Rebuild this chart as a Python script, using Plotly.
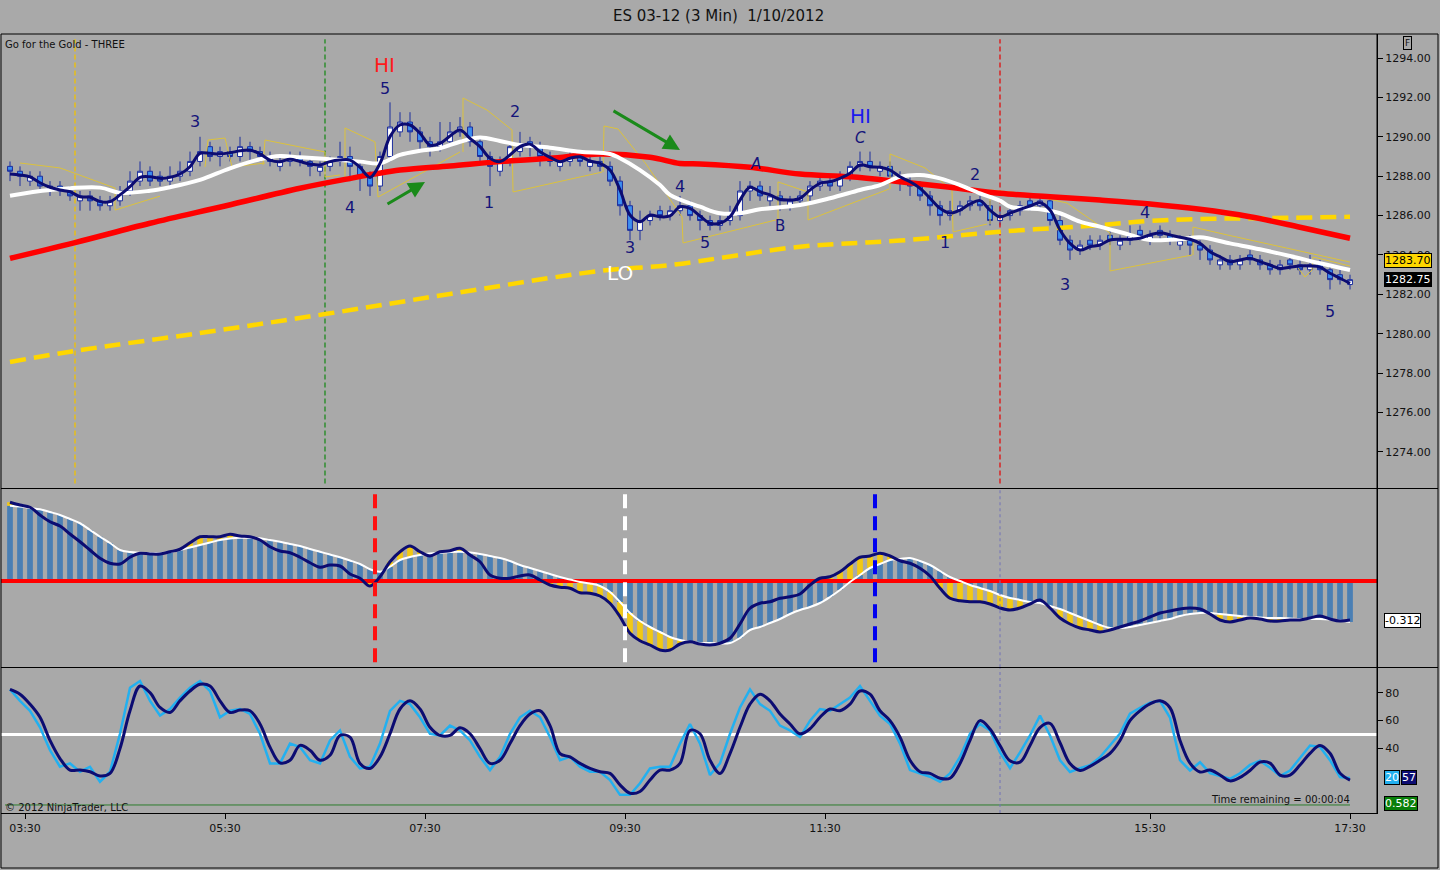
import plotly.graph_objects as go

# ES 03-12 (3 Min) 1/10/2012 -- sampled every 2 bars, x = bar number counted from 03:30
bars = list(range(-3, 267, 2))

tick_bars = [0, 40, 80, 120, 160, 225, 265]
tick_times = ["03:30", "05:30", "07:30", "09:30", "11:30", "15:30", "17:30"]
price_ticks = [1274, 1276, 1278, 1280, 1282, 1284, 1286, 1288, 1290, 1292, 1294]
stoch_ticks = [40, 60, 80]

opens = [
    1288.5, 1288.25, 1287.75, 1288.0, 1287.25, 1287.5, 1287.25, 1286.75, 1287.0, 1286.75,
    1286.5, 1286.75, 1287.25, 1287.75, 1288.25, 1288.0, 1287.75, 1288.0, 1288.25, 1288.75,
    1289.5, 1289.0, 1289.25, 1289.0, 1289.5, 1289.25, 1289.0, 1288.5, 1288.75, 1289.0,
    1288.75, 1288.25, 1288.5, 1288.75, 1289.0, 1288.5, 1288.0, 1287.5, 1289.0, 1290.25,
    1290.75, 1290.25, 1289.75, 1289.5, 1289.75, 1290.25, 1290.5, 1289.75, 1289.0, 1288.25,
    1288.75, 1289.25, 1289.75, 1289.5, 1289.0, 1288.5, 1288.75, 1289.0, 1288.5, 1288.75,
    1288.5, 1287.75, 1286.5, 1285.25, 1285.75, 1286.25, 1286.0, 1286.25, 1286.5, 1286.0,
    1285.75, 1285.5, 1285.75, 1286.0, 1287.25, 1287.5, 1286.75, 1287.0, 1286.5, 1286.75,
    1287.0, 1287.5, 1287.75, 1287.5, 1288.0, 1288.5, 1288.75, 1288.25, 1288.5, 1288.0,
    1287.75, 1287.5, 1287.0, 1286.5, 1286.0, 1286.25, 1286.5, 1286.75, 1286.5, 1285.75,
    1286.0, 1286.25, 1286.75, 1286.5, 1286.75, 1285.75, 1284.75, 1284.25, 1284.75, 1284.5,
    1285.0, 1284.5, 1284.75, 1285.25, 1284.75, 1285.25, 1285.0, 1284.5, 1284.75, 1284.5,
    1284.25, 1283.5, 1283.75, 1283.5, 1284.0, 1283.75, 1283.5, 1283.25, 1283.75, 1283.5,
    1283.25, 1283.5, 1283.25, 1283.0, 1282.5]
highs = [
    1288.75, 1288.5, 1288.25, 1288.25, 1287.75, 1287.75, 1287.5, 1287.25, 1287.25, 1287.0,
    1287.0, 1287.5, 1288.25, 1288.75, 1288.5, 1288.25, 1288.5, 1288.75, 1289.25, 1290.0,
    1289.75, 1289.5, 1289.5, 1290.0, 1289.75, 1289.5, 1289.25, 1289.0, 1289.25, 1289.25,
    1289.0, 1288.75, 1289.0, 1289.75, 1289.5, 1288.75, 1288.25, 1289.25, 1291.75, 1291.25,
    1291.25, 1290.5, 1290.0, 1290.75, 1290.75, 1291.0, 1290.75, 1290.0, 1289.25, 1289.0,
    1289.75, 1290.25, 1290.0, 1289.75, 1289.25, 1289.0, 1289.25, 1289.25, 1289.0, 1289.0,
    1288.75, 1288.0, 1286.75, 1286.25, 1286.25, 1286.5, 1286.5, 1287.0, 1286.75, 1286.25,
    1286.0, 1286.0, 1286.5, 1287.75, 1287.75, 1287.75, 1287.5, 1287.25, 1287.0, 1287.25,
    1287.75, 1288.0, 1288.0, 1288.25, 1288.75, 1289.25, 1289.25, 1288.75, 1288.75, 1288.25,
    1288.0, 1287.75, 1287.25, 1286.75, 1286.75, 1286.75, 1287.0, 1287.0, 1286.75, 1286.5,
    1286.5, 1286.75, 1287.0, 1287.0, 1287.0, 1286.0, 1285.0, 1284.75, 1285.0, 1285.0,
    1285.25, 1285.0, 1285.5, 1285.5, 1285.25, 1285.5, 1285.25, 1285.0, 1285.0, 1284.75,
    1284.5, 1284.0, 1284.0, 1284.0, 1284.25, 1284.0, 1283.75, 1283.75, 1284.0, 1283.75,
    1284.0, 1283.75, 1283.5, 1283.25, 1283.0]
lows = [
    1287.75, 1287.5, 1287.5, 1287.25, 1287.0, 1287.0, 1286.75, 1286.25, 1286.25, 1286.25,
    1286.25, 1286.5, 1287.0, 1287.5, 1287.5, 1287.5, 1287.5, 1287.75, 1288.0, 1288.5,
    1288.75, 1288.5, 1288.75, 1288.75, 1288.75, 1288.75, 1288.5, 1288.25, 1288.5, 1288.5,
    1288.0, 1288.0, 1288.25, 1288.5, 1287.75, 1287.25, 1287.0, 1287.25, 1288.75, 1290.0,
    1289.75, 1289.25, 1289.0, 1289.25, 1289.5, 1290.0, 1289.5, 1288.75, 1287.5, 1288.0,
    1288.5, 1289.0, 1289.0, 1288.5, 1288.5, 1288.25, 1288.5, 1288.5, 1288.25, 1288.25,
    1287.5, 1286.0, 1284.75, 1284.75, 1285.5, 1285.75, 1285.75, 1286.0, 1285.75, 1285.25,
    1285.25, 1285.25, 1285.5, 1285.75, 1286.75, 1286.75, 1286.5, 1286.25, 1286.25, 1286.5,
    1286.75, 1287.25, 1287.25, 1287.25, 1287.75, 1288.25, 1288.25, 1288.0, 1287.75, 1287.25,
    1287.0, 1286.75, 1286.0, 1285.5, 1285.75, 1286.0, 1286.25, 1286.25, 1285.5, 1285.5,
    1285.75, 1286.0, 1286.25, 1286.25, 1285.5, 1284.5, 1283.75, 1284.0, 1284.25, 1284.25,
    1284.5, 1284.25, 1284.5, 1284.75, 1284.5, 1284.75, 1284.5, 1284.25, 1284.0, 1283.75,
    1283.5, 1283.25, 1283.25, 1283.25, 1283.5, 1283.25, 1283.0, 1283.0, 1283.25, 1283.0,
    1283.0, 1283.0, 1282.25, 1282.5, 1282.25]
closes = [
    1288.25, 1288.0, 1288.0, 1287.5, 1287.5, 1287.25, 1287.0, 1287.0, 1286.75, 1286.5,
    1286.75, 1287.25, 1287.75, 1288.25, 1287.75, 1287.75, 1288.0, 1288.25, 1288.75, 1289.25,
    1289.0, 1289.25, 1289.0, 1289.5, 1289.25, 1289.0, 1288.75, 1288.75, 1289.0, 1288.75,
    1288.5, 1288.5, 1288.75, 1289.0, 1288.5, 1288.0, 1287.5, 1289.0, 1290.5, 1290.75,
    1290.25, 1289.75, 1289.5, 1289.75, 1290.25, 1290.5, 1289.75, 1289.0, 1288.5, 1288.75,
    1289.5, 1289.5, 1289.5, 1289.0, 1288.75, 1288.75, 1289.0, 1288.75, 1288.75, 1288.5,
    1287.75, 1286.5, 1285.25, 1285.75, 1286.0, 1286.0, 1286.25, 1286.5, 1286.0, 1285.75,
    1285.5, 1285.75, 1286.0, 1287.25, 1287.5, 1287.0, 1287.0, 1286.75, 1286.75, 1287.0,
    1287.5, 1287.75, 1287.5, 1288.0, 1288.5, 1288.75, 1288.5, 1288.5, 1288.0, 1287.75,
    1287.5, 1287.0, 1286.5, 1286.0, 1286.25, 1286.5, 1286.75, 1286.5, 1285.75, 1286.0,
    1286.25, 1286.5, 1286.5, 1286.75, 1285.75, 1284.75, 1284.25, 1284.5, 1284.5, 1284.75,
    1284.75, 1284.75, 1285.0, 1285.0, 1285.0, 1285.0, 1284.75, 1284.75, 1284.5, 1284.25,
    1283.75, 1283.75, 1283.5, 1283.75, 1283.75, 1283.5, 1283.25, 1283.5, 1283.5, 1283.25,
    1283.5, 1283.25, 1282.75, 1282.75, 1282.75]

# dark blue smoothing of price
fast_avg = [
    1288.11, 1288.06, 1287.97, 1287.67, 1287.44, 1287.30, 1287.21, 1286.96, 1286.93, 1286.71,
    1286.71, 1287.05, 1287.47, 1287.94, 1287.97, 1287.89, 1287.94, 1288.11, 1288.48, 1289.16,
    1289.16, 1289.13, 1289.19, 1289.29, 1289.33, 1289.13, 1288.82, 1288.74, 1288.86, 1288.74,
    1288.62, 1288.57, 1288.74, 1288.82, 1288.82, 1288.45, 1287.94, 1288.65, 1290.01, 1290.60,
    1290.60, 1290.18, 1289.58, 1289.67, 1290.04, 1290.35, 1289.92, 1289.50, 1288.91, 1288.74,
    1289.08, 1289.50, 1289.63, 1289.24, 1288.96, 1288.74, 1288.91, 1288.99, 1288.77, 1288.65,
    1288.31, 1287.30, 1286.03, 1285.69, 1286.03, 1285.94, 1285.98, 1286.45, 1286.37, 1285.98,
    1285.61, 1285.61, 1285.94, 1286.79, 1287.44, 1287.21, 1287.05, 1286.83, 1286.79, 1286.88,
    1287.30, 1287.64, 1287.72, 1287.89, 1288.15, 1288.57, 1288.48, 1288.45, 1288.31, 1287.97,
    1287.72, 1287.39, 1286.88, 1286.37, 1286.12, 1286.28, 1286.59, 1286.76, 1286.28, 1285.94,
    1286.12, 1286.32, 1286.49, 1286.65, 1286.28, 1285.27, 1284.59, 1284.25, 1284.42, 1284.51,
    1284.76, 1284.80, 1284.80, 1284.85, 1285.02, 1285.13, 1285.02, 1284.90, 1284.80, 1284.59,
    1284.17, 1283.91, 1283.66, 1283.75, 1283.83, 1283.66, 1283.49, 1283.32, 1283.38, 1283.44,
    1283.44, 1283.38, 1283.07, 1282.82, 1282.56]

# white average
mid_bars = [-3, 5, 15, 19, 25, 29, 35, 41, 47, 51, 55, 61, 67, 71, 75, 79, 83, 87, 91, 95,
            99, 105, 111, 117, 119, 123, 127, 129, 135, 139, 143, 147, 155, 161, 167, 171, 175, 179, 183, 187,
            191, 195, 197, 203, 207, 211, 215, 221, 225, 231, 235, 241, 247, 253, 259, 265]
mid_avg = [1287.01, 1287.30, 1287.42, 1287.16, 1287.26, 1287.44, 1287.81, 1288.40, 1288.86, 1289.03,
           1288.96, 1288.86, 1288.74, 1288.65, 1289.08, 1289.29, 1289.42, 1289.75, 1289.97, 1289.79,
           1289.58, 1289.45, 1289.24, 1289.13, 1288.91, 1288.31, 1287.55, 1287.05, 1286.45, 1286.12,
           1286.12, 1286.32, 1286.54, 1286.88, 1287.30, 1287.55, 1287.97, 1288.06, 1287.89, 1287.55,
           1287.13, 1286.76, 1286.45, 1286.32, 1286.12, 1285.69, 1285.44, 1285.02, 1284.76, 1284.80,
           1284.90, 1284.59, 1284.29, 1283.95, 1283.58, 1283.24]

# red slow average
slow_bars = [-3, 10, 25, 40, 55, 64, 75, 85, 95, 105, 115, 125, 131, 135, 145, 155, 165, 175,
             185, 195, 205, 215, 225, 235, 245, 255, 265]
slow_avg = [1283.83, 1284.63, 1285.61, 1286.49, 1287.39, 1287.84, 1288.31, 1288.52, 1288.74, 1288.91,
            1289.13, 1288.96, 1288.65, 1288.62, 1288.45, 1288.11, 1287.97, 1287.72, 1287.44, 1287.13,
            1286.96, 1286.79, 1286.59, 1286.32, 1285.94, 1285.41, 1284.85]

# yellow dashed long average
long_bars = [-3, 10, 35, 60, 85, 115, 129, 155, 175, 195, 215, 225, 235, 245, 265]
long_avg = [1278.57, 1279.13, 1280.04, 1281.0, 1282.02, 1283.19, 1283.49, 1284.42, 1284.73,
            1285.18, 1285.52, 1285.73, 1285.83, 1285.86, 1285.94]

# thin yellow channel pieces
chan_bars = [-1, 7, 18, 18, 27, None,
             36, 36.6, 40, 41, 41.4, 48, None,
             47.6, 48, 60, 60, 63, None,
             64, 64, 70, 70.6, 87, None,
             87.6, 87.6, 92.4, 97.4, 97.6, 115.4, None,
             115.6, 115.8, 118.6, 124.2, 131.4, 131.6, 150.2, None,
             150.6, 150.6, 156.6, 156.6, 157.2, 172.8, None,
             173, 173, 180, 185.4, 185.6, 192.4, None,
             193, 193, 199, 208.4, 217, 217, 233.4, None,
             233.6, 233.6, 240.4, 265, None,
             254.6, 256, 257.4, 257.6, 265]
chan_px = [1288.67, 1288.42, 1287.40, 1286.28, 1286.99, None,
           1288.47, 1289.84, 1289.94, 1288.82, 1288.47, 1288.67, None,
           1288.57, 1289.84, 1289.23, 1287.96, 1288.06, None,
           1287.91, 1290.45, 1289.74, 1286.94, 1289.23, None,
           1289.23, 1291.97, 1291.36, 1290.35, 1287.20, 1288.21, None,
           1288.21, 1290.55, 1290.40, 1288.62, 1285.93, 1284.61, 1285.78, None,
           1285.78, 1287.71, 1287.20, 1285.78, 1285.83, 1287.35, None,
           1287.35, 1289.13, 1288.42, 1287.30, 1285.17, 1285.57, None,
           1285.57, 1287.30, 1287.15, 1286.64, 1285.12, 1283.19, 1284.0, None,
           1284.0, 1285.42, 1285.02, 1283.64, None,
           1283.34, 1282.88, 1283.24, 1283.90, 1283.44]

# middle panel oscillator
osc_line = [
    0.630, 0.608, 0.590, 0.528, 0.474, 0.440, 0.376, 0.314, 0.248, 0.182,
    0.142, 0.136, 0.190, 0.222, 0.216, 0.216, 0.234, 0.254, 0.306, 0.354,
    0.354, 0.354, 0.374, 0.360, 0.354, 0.328, 0.274, 0.240, 0.226, 0.190,
    0.146, 0.110, 0.128, 0.120, 0.056, 0.022, -0.040, 0.034, 0.154, 0.234,
    0.280, 0.234, 0.200, 0.234, 0.242, 0.262, 0.208, 0.154, 0.048, 0.022,
    0.022, 0.040, 0.048, 0.008, -0.032, -0.050, -0.058, -0.094, -0.098, -0.120,
    -0.178, -0.286, -0.418, -0.478, -0.512, -0.552, -0.552, -0.504, -0.486, -0.504,
    -0.512, -0.498, -0.458, -0.344, -0.218, -0.178, -0.166, -0.138, -0.126, -0.104,
    -0.032, 0.022, 0.034, 0.074, 0.136, 0.190, 0.200, 0.222, 0.200, 0.162,
    0.142, 0.102, 0.040, -0.058, -0.138, -0.158, -0.166, -0.166, -0.184, -0.216,
    -0.232, -0.216, -0.184, -0.152, -0.216, -0.296, -0.344, -0.376, -0.392, -0.408,
    -0.392, -0.368, -0.344, -0.320, -0.288, -0.256, -0.240, -0.224, -0.216, -0.224,
    -0.264, -0.312, -0.328, -0.312, -0.296, -0.304, -0.320, -0.320, -0.312, -0.312,
    -0.296, -0.280, -0.304, -0.320, -0.312]
osc_signal = [
    0.602, 0.596, 0.584, 0.574, 0.552, 0.528, 0.496, 0.462, 0.408, 0.354,
    0.304, 0.248, 0.232, 0.226, 0.224, 0.222, 0.232, 0.248, 0.268, 0.288,
    0.308, 0.328, 0.340, 0.346, 0.346, 0.342, 0.328, 0.314, 0.296, 0.280,
    0.256, 0.234, 0.212, 0.190, 0.164, 0.136, 0.094, 0.074, 0.114, 0.168,
    0.192, 0.208, 0.220, 0.226, 0.232, 0.234, 0.228, 0.216, 0.200, 0.184,
    0.160, 0.128, 0.104, 0.080, 0.056, 0.032, 0.012, -0.008, -0.020, -0.040,
    -0.088, -0.168, -0.256, -0.320, -0.368, -0.408, -0.448, -0.472, -0.488, -0.496,
    -0.496, -0.500, -0.496, -0.456, -0.392, -0.368, -0.336, -0.304, -0.264, -0.232,
    -0.208, -0.176, -0.128, -0.072, -0.008, 0.048, 0.104, 0.136, 0.168, 0.176,
    0.184, 0.160, 0.128, 0.080, 0.032, 0.000, -0.032, -0.056, -0.080, -0.112,
    -0.136, -0.152, -0.168, -0.176, -0.200, -0.224, -0.256, -0.288, -0.320, -0.352,
    -0.376, -0.376, -0.368, -0.352, -0.336, -0.320, -0.304, -0.280, -0.264, -0.256,
    -0.256, -0.264, -0.272, -0.280, -0.288, -0.292, -0.296, -0.296, -0.300, -0.304,
    -0.304, -0.304, -0.308, -0.316, -0.328]

# bottom panel stochastics
stoch_d = [
    82.6, 79.1, 71.9, 62.4, 45.7, 32.6, 24.3, 24.3, 23.1, 20.0,
    21.9, 39.8, 67.1, 85.0, 80.2, 69.5, 65.9, 74.3, 81.4, 86.2,
    85.0, 74.3, 65.9, 67.6, 67.1, 57.6, 40.9, 29.5, 31.4, 42.1,
    38.6, 31.4, 35.0, 49.3, 48.1, 29.1, 25.5, 33.8, 50.5, 68.4,
    74.3, 68.4, 55.2, 49.3, 49.3, 54.8, 50.5, 39.8, 29.1, 31.4,
    43.4, 56.4, 64.8, 67.1, 56.4, 36.2, 33.8, 29.1, 25.5, 23.1,
    21.9, 13.6, 7.6, 8.8, 17.1, 24.3, 24.3, 29.1, 52.9, 50.5,
    31.4, 21.9, 36.2, 55.2, 71.9, 79.1, 74.3, 64.8, 57.6, 50.5,
    54.1, 62.4, 68.4, 67.1, 71.9, 81.4, 79.1, 67.1, 60.0, 48.1,
    31.4, 23.1, 21.9, 18.4, 18.4, 29.1, 45.7, 60.0, 54.0, 42.0,
    31.0, 30.0, 42.0, 55.0, 58.0, 44.0, 29.0, 24.0, 27.0, 31.4,
    36.4, 45.7, 60.0, 67.1, 72.1, 74.3, 69.3, 45.7, 29.3, 22.9,
    24.3, 20.7, 16.5, 19.0, 24.0, 30.0, 29.3, 20.7, 20.7, 27.9,
    36.4, 42.1, 36.4, 22.1, 17.1]
stoch_k = [
    82.6, 74.3, 67.1, 55.2, 38.6, 26.7, 29.1, 23.1, 26.7, 15.9,
    23.1, 50.5, 83.8, 88.6, 74.3, 63.6, 68.4, 76.6, 83.8, 88.6,
    81.4, 62.4, 67.1, 68.4, 64.8, 50.5, 29.1, 29.1, 43.4, 40.9,
    31.4, 29.1, 45.7, 52.9, 33.8, 25.5, 26.7, 43.4, 67.1, 74.3,
    71.9, 62.4, 50.5, 49.3, 56.4, 52.9, 45.7, 33.8, 24.3, 33.8,
    50.5, 62.4, 67.1, 62.4, 48.1, 31.4, 33.8, 26.7, 23.1, 23.1,
    17.1, 6.4, 6.4, 14.8, 25.5, 26.7, 26.7, 43.4, 57.6, 43.4,
    20.7, 29.1, 50.5, 69.5, 82.6, 71.9, 67.1, 56.4, 52.9, 48.1,
    60.0, 68.4, 67.1, 71.9, 76.6, 85.0, 74.3, 63.6, 57.6, 43.4,
    24.3, 21.9, 19.5, 15.9, 21.9, 33.8, 50.5, 57.6, 52.9, 37.1,
    25.7, 37.1, 49.3, 63.6, 49.3, 31.4, 22.9, 25.7, 27.9, 33.6,
    42.0, 50.7, 65.0, 69.3, 72.9, 74.3, 62.1, 31.4, 24.0, 30.0,
    22.1, 20.0, 18.0, 22.0, 28.0, 31.0, 26.0, 20.0, 24.0, 33.0,
    42.0, 41.0, 31.4, 19.3, 18.6]

# green indicator line at the bottom of the stochastics panel
extra_bars = [-4, 265]
extra_vals = [-0.9, -0.9]

# vertical marker lines (bar numbers)
price_marks = [(10, "#f2c200"), (60, "#1e8a1e"), (195, "#e01010")]
osc_marks = [(70, "#ff1010"), (120, "#ffffff"), (170, "#0000ee")]
session_bar = 195

# wave labels: (bar, price, text, colour, size)
labels = [
    (34, 1290.80, "3", "#14147a", 16), (72, 1292.43, "5", "#14147a", 16),
    (65, 1286.39, "4", "#14147a", 16), (92.8, 1286.64, "1", "#14147a", 16),
    (98, 1291.31, "2", "#14147a", 16), (121, 1284.36, "3", "#14147a", 16),
    (131, 1287.50, "4", "#14147a", 16), (136, 1284.61, "5", "#14147a", 16),
    (146, 1288.62, "<i>A</i>", "#14147a", 15), (151, 1285.47, "B", "#14147a", 15),
    (167, 1289.94, "<i>C</i>", "#14147a", 15), (184, 1284.61, "1", "#14147a", 16),
    (190, 1288.11, "2", "#14147a", 16), (208, 1282.48, "3", "#14147a", 16),
    (224, 1286.18, "4", "#14147a", 16), (261, 1281.11, "5", "#14147a", 16),
    (71.8, 1293.64, "HI", "#ff1a1a", 20), (167, 1291.06, "HI", "#1a1aee", 20),
    (119, 1283.09, "LO", "#ffffff", 20),
]
arrows = [((72.2, 1286.54), (80, 1287.71)), ((117.4, 1291.36), (131, 1289.33))]

W, H = 1440, 870


def px(x):
    return x / W


def py(y):
    return 1 - y / H


FONT = "DejaVu Sans"
BG = "#a9a9a9"
NAVY = "#0c0c72"

fig = go.Figure()

# price panel
for b, col in price_marks:
    fig.add_trace(go.Scatter(x=[b, b], y=[1272.4, 1294.95], mode="lines",
                             line=dict(color=col, width=1.3, dash="5px,3px"), yaxis="y"))
fig.add_trace(go.Scatter(x=chan_bars, y=chan_px, mode="lines", connectgaps=False,
                         line=dict(color="#dcc23c", width=1), yaxis="y"))
fig.add_trace(go.Candlestick(
    x=bars, open=opens, high=highs, low=lows, close=closes, yaxis="y",
    increasing=dict(line=dict(color="#1c2e9e", width=1), fillcolor="#ffffff"),
    decreasing=dict(line=dict(color="#1c2e9e", width=1), fillcolor="#3d8ef0"),
    whiskerwidth=0))
fig.add_trace(go.Scatter(x=long_bars, y=long_avg, mode="lines", line_shape="spline",
                         line=dict(color="#ffd700", width=4.5, dash="16px,8px"), yaxis="y"))
fig.add_trace(go.Scatter(x=slow_bars, y=slow_avg, mode="lines", line_shape="spline",
                         line=dict(color="#ff0000", width=5.5), yaxis="y"))
fig.add_trace(go.Scatter(x=mid_bars, y=mid_avg, mode="lines", line_shape="spline",
                         line=dict(color="#ffffff", width=4), yaxis="y"))
fig.add_trace(go.Scatter(x=bars, y=fast_avg, mode="lines", line_shape="spline",
                         line=dict(color=NAVY, width=3), yaxis="y"))

# oscillator panel
yel_base, yel_len = [], []
for n, s in zip(osc_line, osc_signal):
    hi, lo = max(s, 0), min(s, 0)
    if n > hi:
        yel_base.append(hi)
        yel_len.append(n - hi)
    elif n < lo:
        yel_base.append(lo)
        yel_len.append(n - lo)
    else:
        yel_base.append(0)
        yel_len.append(None)

fig.add_trace(go.Scatter(x=[-4.8, 270.4], y=[0, 0], mode="lines",
                         line=dict(color="#ff0000", width=4), yaxis="y2"))
fig.add_trace(go.Bar(x=bars, y=osc_signal, base=0, width=1.15, yaxis="y2",
                     marker=dict(color="#4a7fb4", line=dict(width=0))))
fig.add_trace(go.Bar(x=bars, y=yel_len, base=yel_base, width=1.15, yaxis="y2",
                     marker=dict(color="#f2c814", line=dict(width=0))))
fig.add_trace(go.Scatter(x=bars, y=osc_signal, mode="lines", line_shape="spline",
                         line=dict(color="#ffffff", width=2), yaxis="y2"))
fig.add_trace(go.Scatter(x=bars, y=osc_line, mode="lines", line_shape="spline",
                         line=dict(color=NAVY, width=3), yaxis="y2"))
for b, col in osc_marks:
    fig.add_trace(go.Scatter(x=[b, b], y=[-0.65, 0.70], mode="lines",
                             line=dict(color=col, width=4, dash="14px,8px"), yaxis="y2"))
fig.add_trace(go.Scatter(x=[session_bar, session_bar], y=[-0.69, 0.74], mode="lines",
                         line=dict(color="#7272b8", width=1, dash="dot"), yaxis="y2"))

# stochastics panel
fig.add_trace(go.Scatter(x=[-4.8, 270.4], y=[50, 50], mode="lines",
                         line=dict(color="#ffffff", width=3), yaxis="y3"))
fig.add_trace(go.Scatter(x=extra_bars, y=extra_vals, mode="lines",
                         line=dict(color="#2e7d2e", width=1), yaxis="y3"))
fig.add_trace(go.Scatter(x=[session_bar, session_bar], y=[-6.7, 98], mode="lines",
                         line=dict(color="#7272b8", width=1, dash="dot"), yaxis="y3"))
fig.add_trace(go.Scatter(x=bars, y=stoch_k, mode="lines",
                         line=dict(color="#22b0f0", width=2.5), yaxis="y3"))
fig.add_trace(go.Scatter(x=bars, y=stoch_d, mode="lines", line_shape="spline",
                         line=dict(color=NAVY, width=3), yaxis="y3"))

tick_font = dict(family=FONT, size=11, color="#111111")
axis_common = dict(showgrid=False, zeroline=False, showline=True, linecolor="#000000",
                   linewidth=1, fixedrange=True)

fig.update_layout(
    width=W, height=H, margin=dict(l=0, r=0, t=0, b=0, pad=0),
    paper_bgcolor=BG, plot_bgcolor=BG, showlegend=False, barmode="overlay",
    font=dict(family=FONT, color="#111111"),
    xaxis=dict(domain=[px(1), px(1377)], range=[-4.8, 270.4], anchor="y3",
               tickvals=tick_bars, ticktext=tick_times, ticks="outside", ticklen=5,
               tickcolor="#000000", tickfont=tick_font, rangeslider=dict(visible=False),
               **axis_common),
    yaxis=dict(domain=[py(488), py(34)], range=[1272.17, 1295.22], side="right", anchor="x",
               tickvals=price_ticks, tickformat=".2f", ticks="outside", ticklen=5,
               tickcolor="#000000", tickfont=tick_font, **axis_common),
    yaxis2=dict(domain=[py(667), py(489)], range=[-0.688, 0.736], side="right", anchor="x",
                showticklabels=False, ticks="", **axis_common),
    yaxis3=dict(domain=[py(813), py(668)], range=[-6.7, 98.0], side="right", anchor="x",
                tickvals=stoch_ticks, ticks="outside", ticklen=5, tickcolor="#000000",
                tickfont=tick_font, **axis_common),
)

# frame and panel separators
frame = dict(color="#000000", width=1)
fig.add_shape(type="rect", xref="paper", yref="paper", x0=px(1), x1=px(1438), y0=py(868),
              y1=py(34), line=frame)
for yy in (488.5, 667.5):
    fig.add_shape(type="line", xref="paper", yref="paper", x0=px(1), x1=px(1438),
                  y0=py(yy), y1=py(yy), line=frame)
fig.add_shape(type="line", xref="paper", yref="paper", x0=px(1377), x1=px(1377),
              y0=py(34), y1=py(813), line=frame)


def note(x, y, text, size=10, anchor="left", **kw):
    return dict(x=px(x), y=py(y), xref="paper", yref="paper", showarrow=False,
                xanchor=anchor, yanchor="middle", text=text,
                font=dict(family=FONT, size=size, color="#111111"), **kw)


ann = [
    note(718, 16, "ES 03-12 (3 Min)\u00a0\u00a01/10/2012", size=15, anchor="center"),
    note(3, 45, "Go for the Gold - THREE"),
    note(3, 807, "\u00a9 2012 NinjaTrader, LLC"),
    note(1352, 799, "Time remaining = 00:00:04", anchor="right"),
    note(1407, 43, "F", size=9, anchor="center", bordercolor="#000000", borderwidth=1,
         borderpad=1),
    note(1384, 803, "0.582", size=11, bgcolor="#0a800a", bordercolor="#000000",
         borderwidth=1, borderpad=0),
]
ann[-1]["font"]["color"] = "#ffffff"

for b, p, t, col, sz in labels:
    ann.append(dict(x=b, y=p, xref="x", yref="y", text=t, showarrow=False,
                    font=dict(family=FONT, size=sz, color=col)))
for (tb, tp), (hb, hp) in arrows:
    ann.append(dict(x=hb, y=hp, ax=tb, ay=tp, xref="x", yref="y", axref="x", ayref="y",
                    text="", showarrow=True, arrowhead=2, arrowsize=1.1, arrowwidth=3,
                    arrowcolor="#1a8a1a"))

# value badges on the right
badges = [
    ("y", closes[-1] + 0.95, "1283.70", "#ffd700", "#000000", 1384),
    ("y", closes[-1], "1282.75", "#000000", "#ffffff", 1384),
    ("y2", osc_line[-1], "-0.312", "#ffffff", "#000000", 1384),
    ("y3", stoch_k[-1], "20", "#22b0f0", "#ffffff", 1384),
    ("y3", stoch_k[-1], "57", "#0c0c72", "#ffffff", 1401),
]
for ref, val, txt, bg, fg, xl in badges:
    ann.append(dict(x=px(xl), y=val, xref="paper", yref=ref, text=txt, showarrow=False,
                    xanchor="left", yanchor="middle", bgcolor=bg, bordercolor="#000000",
                    borderwidth=1, borderpad=0, font=dict(family=FONT, size=11, color=fg)))

fig.update_layout(annotations=ann)
fig.write_html("out.html", config={"displayModeBar": False},
               post_script="document.body.style.margin='0';"
                           "document.body.style.overflow='hidden';")
